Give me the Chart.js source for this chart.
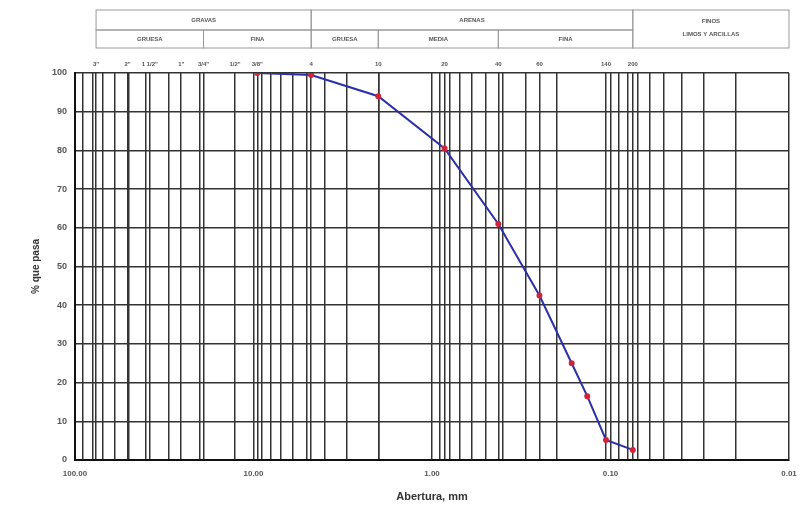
<!DOCTYPE html>
<html>
<head>
<meta charset="utf-8">
<script src="https://cdn.jsdelivr.net/npm/chart.js@4"></script>
<style>
  body { margin: 0; background: #fff; }
  #wrap { width: 801px; height: 516px; }
</style>
</head>
<body>
<div id="wrap"><canvas id="granChart" width="801" height="516"></canvas></div>
<script>
// Curva granulometrica
const aberturas = [9.525, 4.75, 2.0, 0.85, 0.425, 0.25, 0.165, 0.135, 0.106, 0.075];
const pasa = [100, 99.5, 94, 80.5, 61, 42.5, 25, 16.5, 5.2, 2.6];

// Tamices (parte superior)
const tamices = [76.2, 50.8, 38.1, 25.4, 19.05, 12.7, 9.525, 4.75, 2.0, 0.85, 0.425, 0.25, 0.106, 0.075];
const tamizLabels = ['3"', '2"', '1 1/2"', '1"', '3/4"', '1/2"', '3/8"', '4', '10', '20', '40', '60', '140', '200'];

// Eje x
const decadas = [100, 10, 1, 0.1, 0.01];
const multiplos = [2, 3, 4, 5, 6, 7, 8, 9];
const yTicks = [0, 10, 20, 30, 40, 50, 60, 70, 80, 90, 100];

// Cabecera de clasificacion
const grupos = ['GRAVAS', 'ARENAS'];
const gruposLim = [[76.2, 4.75], [4.75, 0.075]];
const subgrupos = ['GRUESA', 'FINA', 'GRUESA', 'MEDIA', 'FINA'];
const subgruposLim = [[76.2, 19.05], [19.05, 4.75], [4.75, 2.0], [2.0, 0.425], [0.425, 0.075]];
const finos = ['FINOS', 'LIMOS Y ARCILLAS'];
const finosLim = [0.075, 0.01];

const font = 'Liberation Sans, Arial, sans-serif';

function gridTicks() {
  const vals = [...decadas];
  decadas.slice(1).forEach(d => multiplos.forEach(m => vals.push(d * m)));
  tamices.forEach(t => vals.push(t));
  return vals.sort((a, b) => b - a).map(v => ({ value: v }));
}

const headerPlugin = {
  id: 'header',
  afterDraw(chart) {
    const ctx = chart.ctx;
    const x = chart.scales.x;
    const top = 10, mid = 30, bot = 48;
    ctx.save();
    ctx.strokeStyle = '#9a9a9a';
    ctx.lineWidth = 1;
    ctx.fillStyle = '#555';
    ctx.font = 'bold 6px ' + font;
    ctx.textAlign = 'center';
    ctx.textBaseline = 'middle';
    grupos.forEach((g, i) => {
      const a = x.getPixelForValue(gruposLim[i][0]);
      const b = x.getPixelForValue(gruposLim[i][1]);
      ctx.strokeRect(a, top, b - a, mid - top);
      ctx.fillText(g, (a + b) / 2, (top + mid) / 2);
    });
    subgrupos.forEach((s, i) => {
      const a = x.getPixelForValue(subgruposLim[i][0]);
      const b = x.getPixelForValue(subgruposLim[i][1]);
      ctx.strokeRect(a, mid, b - a, bot - mid);
      ctx.fillText(s, (a + b) / 2, (mid + bot) / 2);
    });
    const a = x.getPixelForValue(finosLim[0]);
    const b = x.getPixelForValue(finosLim[1]);
    ctx.strokeRect(a, top, b - a, bot - top);
    ctx.fillText(finos[0], (a + b) / 2, 21);
    ctx.fillText(finos[1], (a + b) / 2, 34);
    ctx.restore();
  }
};

const ctx = document.getElementById('granChart').getContext('2d');
const granChart = new Chart(ctx, {
  type: 'line',
  data: {
    datasets: [{
      label: 'Granulometria',
      data: aberturas.map((a, i) => ({ x: a, y: pasa[i] })),
      borderColor: '#2b2fa8',
      borderWidth: 2,
      pointRadius: 2,
      pointBackgroundColor: '#d0243c',
      pointBorderColor: '#d0243c',
      tension: 0,
      xAxisID: 'x',
      yAxisID: 'y'
    }]
  },
  options: {
    responsive: false,
    animation: false,
    layout: { padding: { top: 0, left: 26, right: 12, bottom: 0 } },
    plugins: {
      legend: { display: false },
      tooltip: { enabled: false }
    },
    scales: {
      x: {
        type: 'logarithmic',
        position: 'bottom',
        min: 0.01,
        max: 100,
        reverse: true,
        afterBuildTicks: scale => { scale.ticks = gridTicks(); },
        afterFit: scale => {
          scale.height = 56;
          scale.paddingRight = 0;
          scale.paddingLeft = 0;
        },
        ticks: {
          autoSkip: false,
          maxRotation: 0,
          padding: 9,
          color: '#555',
          font: { family: font, size: 8, weight: 'bold' },
          callback: v => decadas.includes(v) ? v.toFixed(2) : ''
        },
        grid: { color: '#333', lineWidth: 1.5, drawTicks: false },
        border: { display: true, color: '#111', width: 2 },
        title: {
          display: true,
          text: 'Abertura, mm',
          color: '#333',
          padding: { top: 4, bottom: 12 },
          font: { family: font, size: 11, weight: 'bold' }
        }
      },
      xTop: {
        type: 'logarithmic',
        position: 'top',
        min: 0.01,
        max: 100,
        reverse: true,
        afterBuildTicks: scale => { scale.ticks = tamices.map(v => ({ value: v })); },
        afterFit: scale => {
          scale.height = 73;
          scale.paddingRight = 0;
          scale.paddingLeft = 0;
        },
        ticks: {
          autoSkip: false,
          maxRotation: 0,
          padding: 5,
          color: '#555',
          font: { family: font, size: 6, weight: 'bold' },
          callback: (v, i) => tamizLabels[i]
        },
        grid: { display: false, drawTicks: false },
        border: { display: false }
      },
      y: {
        min: 0,
        max: 100,
        afterBuildTicks: scale => { scale.ticks = yTicks.map(v => ({ value: v })); },
        afterFit: scale => { scale.width = 49; },
        ticks: {
          padding: 8,
          color: '#555',
          font: { family: font, size: 9, weight: 'bold' }
        },
        grid: { color: '#333', lineWidth: 1.5, drawTicks: false },
        border: { display: true, color: '#111', width: 2 },
        title: {
          display: true,
          text: '% que pasa',
          color: '#333',
          padding: { bottom: 4 },
          font: { family: font, size: 10, weight: 'bold' }
        }
      }
    }
  },
  plugins: [headerPlugin]
});
</script>
</body>
</html>
